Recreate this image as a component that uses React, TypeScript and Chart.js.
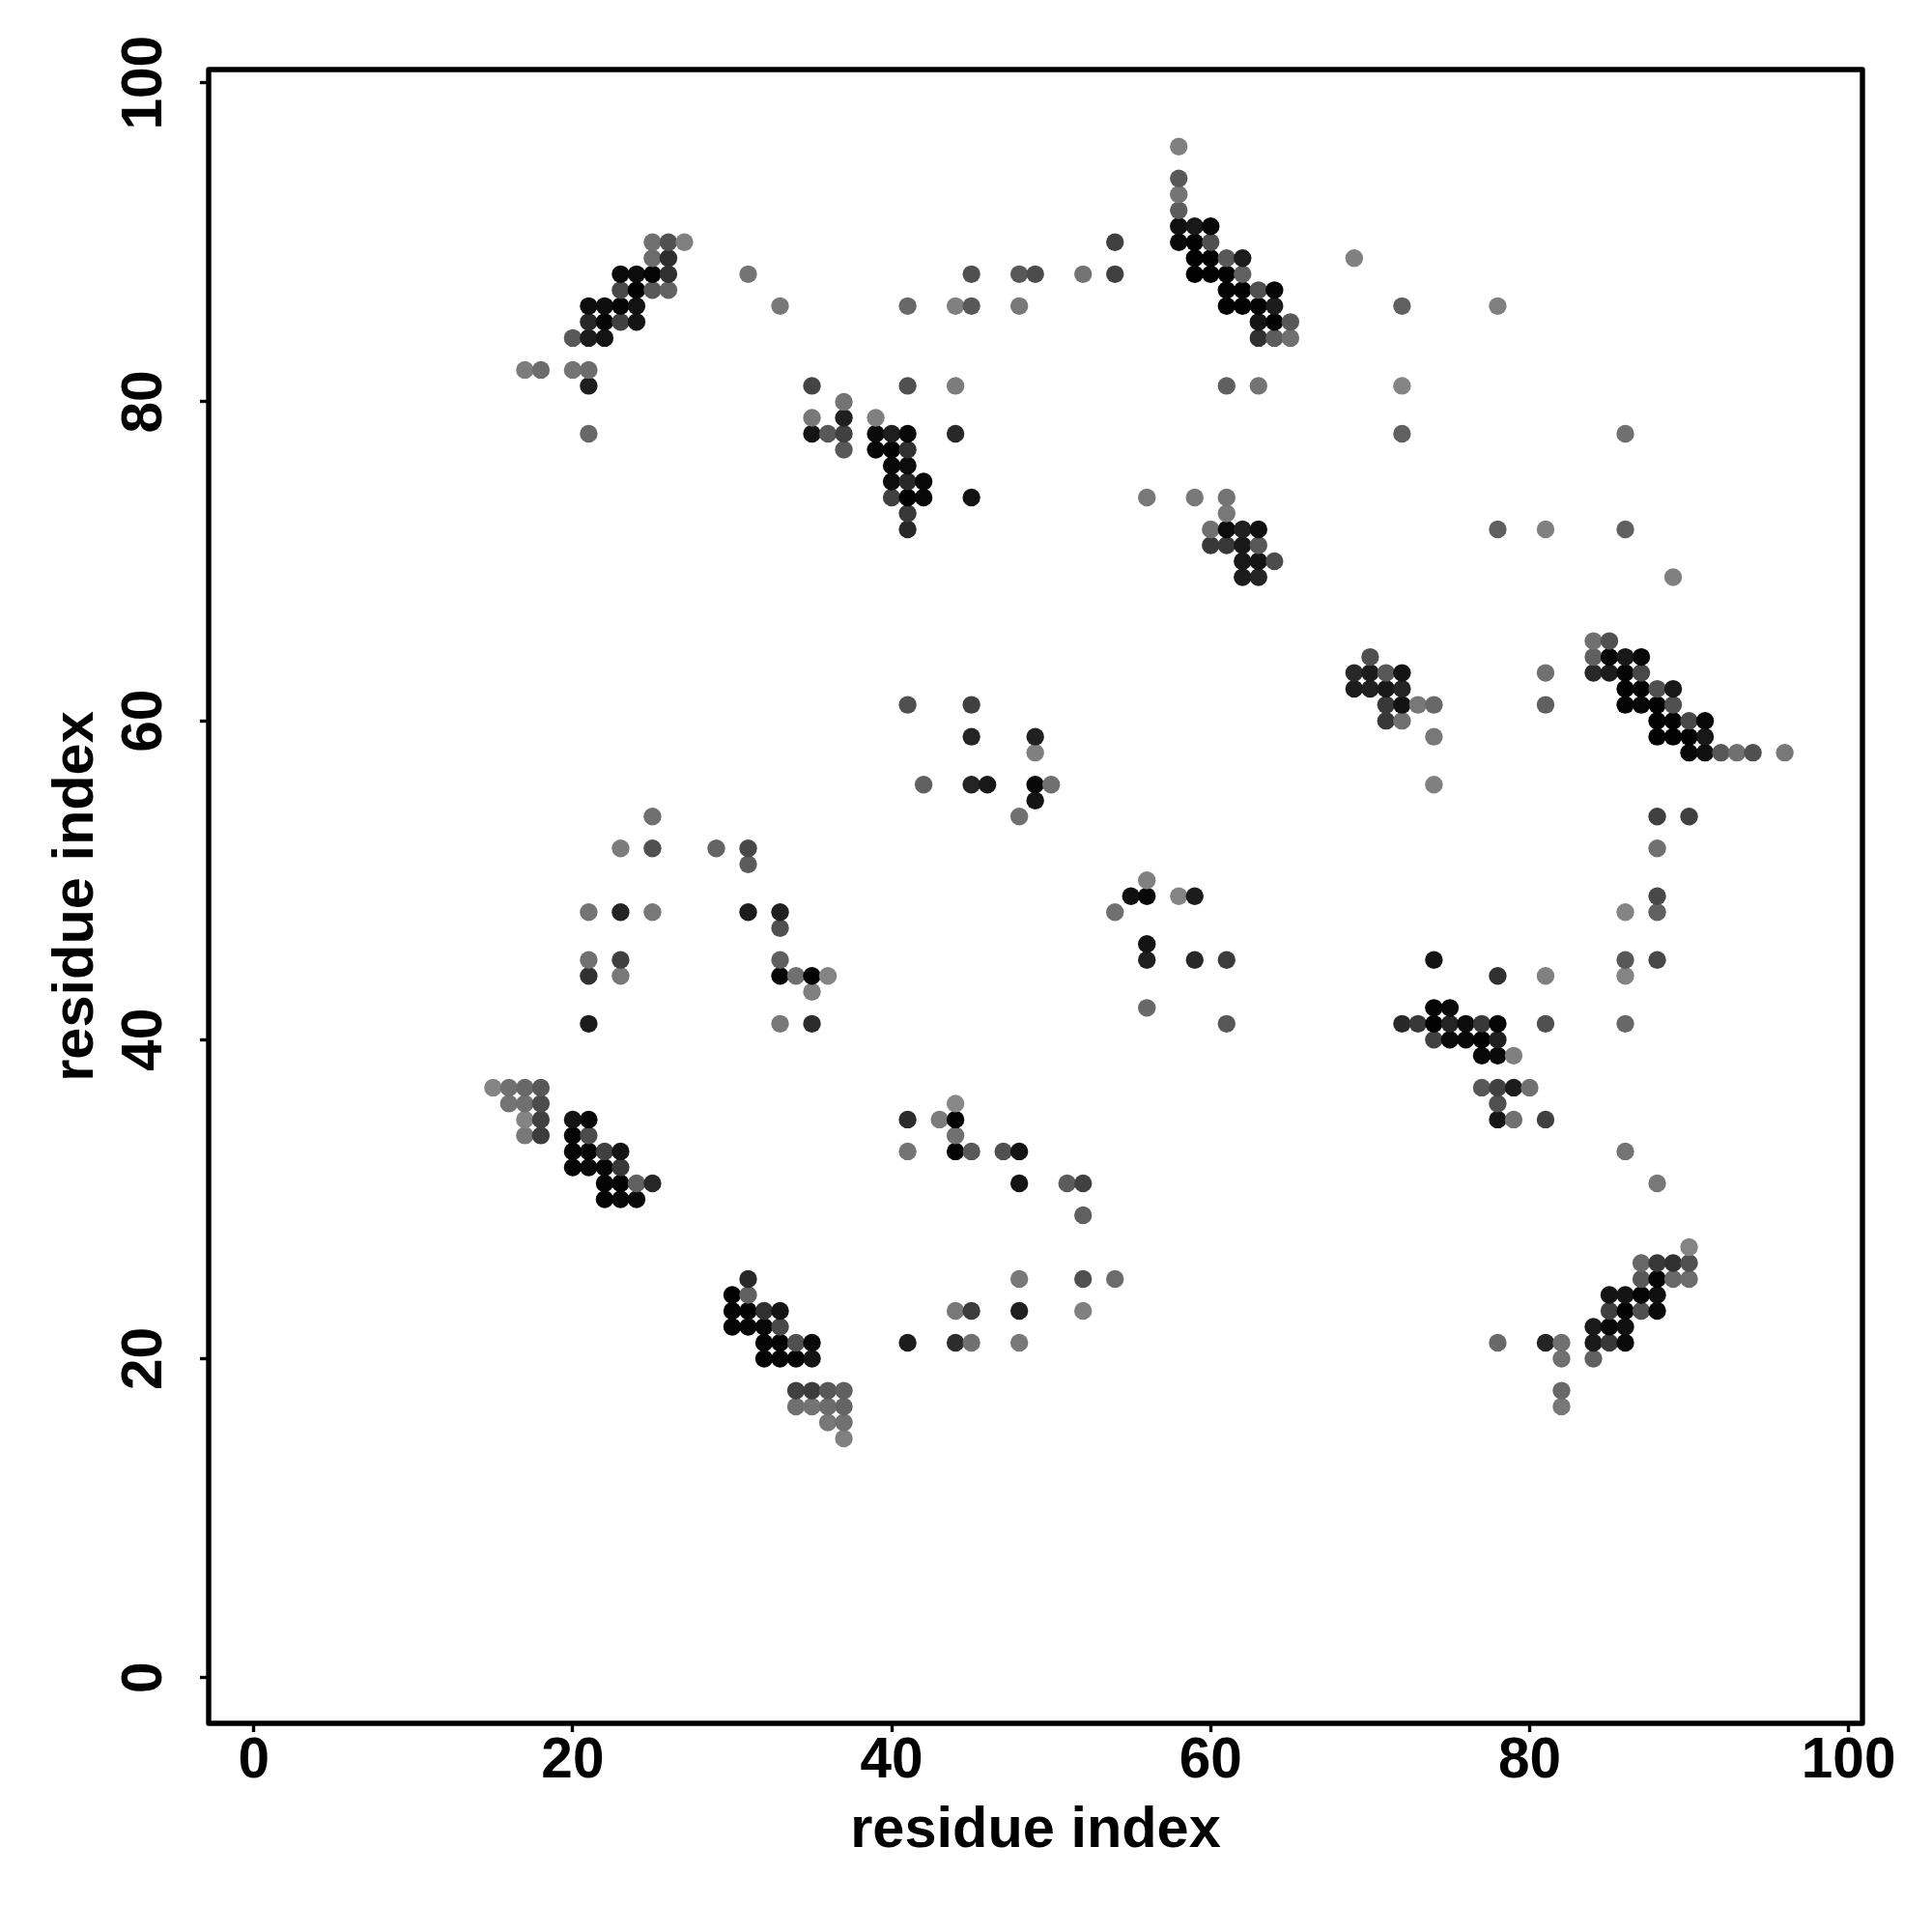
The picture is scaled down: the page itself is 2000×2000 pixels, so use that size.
import React, { useEffect, useRef } from "react";
import { Chart, registerables } from "chart.js";

Chart.register(...registerables);

const tickValues = [0, 20, 40, 60, 80, 100];
const xTitle = "residue index";
const yTitle = "residue index";

// One entry per row of the contact map: row index, residue columns, grey level of each dot.
const rowY = [15,16,17,18,20,21,22,23,24,25,26,27,29,30,31,32,33,34,35,36,37,39,40,41,42,43,44,45,46,47,48,49,50,51,52,54,55,56,58,59,60,61,62,63,64,65,69,70,71,72,73,74,75,76,77,78,79,80,81,82,84,85,86,87,88,89,90,91,92,93,94,96];

const rowX = [
  [37],
  [36,37],
  [34,35,36,37,82],
  [34,35,36,37,82],
  [32,33,34,35,82,84],
  [32,33,34,35,41,44,45,48,78,81,82,84,85,86],
  [30,31,32,33,84,85,86],
  [30,31,32,33,44,45,48,52,85,86,87,88],
  [30,31,85,86,87,88],
  [31,48,52,54,87,88,89,90],
  [87,88,89,90],
  [90],
  [52],
  [22,23,24],
  [22,23,24,25,48,51,52,88],
  [20,21,22,23],
  [20,21,22,23,41,44,45,47,48,86],
  [17,18,20,21,44],
  [17,18,20,21,41,43,44,78,79,81],
  [16,17,18,44,78],
  [15,16,17,18,77,78,79,80],
  [77,78,79],
  [74,75,76,77,78],
  [21,33,35,61,72,73,74,75,76,77,78,81,86],
  [56,74,75],
  [35],
  [21,23,33,34,35,36,78,81,86],
  [21,23,33,56,59,61,74,86,88],
  [56],
  [33],
  [21,23,25,31,33,54,86,88],
  [55,56,58,59,88],
  [56],
  [31],
  [23,25,29,31,88],
  [25,48,88,90],
  [49],
  [42,45,46,49,50,74],
  [49,90,91,92,93,94,96],
  [45,49,74,88,89,90,91],
  [71,72,88,89,90,91],
  [41,45,71,72,73,74,81,86,87,88,89],
  [69,70,71,72,86,87,88,89],
  [69,70,71,72,81,84,85,86,87],
  [70,84,85,86,87],
  [84,85],
  [62,63,89],
  [62,63,64],
  [60,61,62,63],
  [41,60,61,62,63,78,81,86],
  [41,61],
  [40,41,42,45,56,59,61],
  [40,41,42],
  [40,41],
  [37,39,40,41],
  [21,35,36,37,39,40,41,44,72,86],
  [35,37,39],
  [37],
  [21,35,41,44,61,63,72],
  [17,18,20,21],
  [20,21,22,63,64,65],
  [21,22,23,24,63,64,65],
  [21,22,23,24,33,41,44,45,48,61,62,63,64,72,78],
  [23,24,25,26,61,62,63,64],
  [23,24,25,26,31,45,48,49,52,54,59,60,61,62],
  [25,26,59,60,61,62,69],
  [25,26,27,54,58,59,60],
  [58,59,60],
  [58],
  [58],
  [58],
  [58],
];

const rowShade = [
  [0x80],
  [0x78,0x70],
  [0x70,0x74,0x6c,0x64,0x78],
  [0x40,0x3c,0x58,0x60,0x68],
  [0x03,0x02,0x02,0x14,0x70,0x60],
  [0x04,0x02,0x50,0x08,0x1c,0x2c,0x70,0x78,0x68,0x24,0x70,0x1a,0x38,0x0a],
  [0x03,0x05,0x08,0x48,0x1a,0x08,0x10],
  [0x04,0x02,0x30,0x14,0x78,0x3c,0x20,0x80,0x40,0x02,0x50,0x0a],
  [0x02,0x60,0x14,0x14,0x05,0x10],
  [0x28,0x78,0x50,0x6c,0x58,0x05,0x68,0x6c],
  [0x68,0x38,0x30,0x50],
  [0x84],
  [0x60],
  [0x04,0x08,0x08],
  [0x03,0x02,0x60,0x28,0x14,0x5c,0x40,0x78],
  [0x03,0x08,0x06,0x38],
  [0x04,0x05,0x40,0x14,0x74,0x02,0x58,0x50,0x14,0x74],
  [0x78,0x3c,0x02,0x4c,0x70],
  [0x84,0x40,0x14,0x06,0x2c,0x7c,0x02,0x14,0x70,0x40],
  [0x74,0x70,0x4c,0x88,0x50],
  [0x84,0x70,0x68,0x58,0x58,0x40,0x1c,0x70],
  [0x08,0x0a,0x80],
  [0x40,0x0a,0x08,0x02,0x20],
  [0x1c,0x78,0x2c,0x58,0x28,0x38,0x02,0x24,0x0c,0x38,0x05,0x50,0x68],
  [0x68,0x05,0x0a],
  [0x80],
  [0x30,0x78,0x06,0x70,0x02,0x84,0x30,0x80,0x84],
  [0x70,0x40,0x60,0x20,0x28,0x3c,0x14,0x58,0x48],
  [0x14],
  [0x50],
  [0x74,0x24,0x78,0x1c,0x20,0x70,0x84,0x60],
  [0x10,0x08,0x84,0x1c,0x48],
  [0x80],
  [0x5c],
  [0x7c,0x50,0x64,0x48,0x70],
  [0x70,0x70,0x40,0x40],
  [0x14],
  [0x60,0x24,0x18,0x08,0x70,0x80],
  [0x80,0x08,0x10,0x58,0x70,0x50,0x78],
  [0x24,0x20,0x78,0x02,0x02,0x02,0x18],
  [0x38,0x70,0x02,0x02,0x48,0x08],
  [0x50,0x40,0x38,0x12,0x78,0x68,0x60,0x04,0x06,0x02,0x50],
  [0x1c,0x20,0x18,0x24,0x02,0x02,0x50,0x18],
  [0x28,0x1c,0x58,0x14,0x70,0x28,0x1c,0x05,0x48],
  [0x50,0x60,0x05,0x18,0x08],
  [0x70,0x50],
  [0x1c,0x24,0x80],
  [0x18,0x14,0x4c],
  [0x38,0x38,0x18,0x58],
  [0x28,0x70,0x0c,0x20,0x10,0x60,0x80,0x60],
  [0x38,0x78],
  [0x40,0x00,0x08,0x12,0x78,0x78,0x74],
  [0x0c,0x28,0x08],
  [0x08,0x0c],
  [0x58,0x06,0x02,0x30],
  [0x68,0x14,0x58,0x40,0x0a,0x1e,0x08,0x28,0x60,0x70],
  [0x78,0x20,0x80],
  [0x74],
  [0x1e,0x44,0x50,0x7c,0x60,0x74,0x84],
  [0x7c,0x6c,0x74,0x6c],
  [0x58,0x1c,0x14,0x30,0x5c,0x70],
  [0x28,0x05,0x40,0x14,0x14,0x02,0x58],
  [0x0c,0x0e,0x05,0x12,0x78,0x68,0x80,0x58,0x78,0x02,0x02,0x03,0x1c,0x60,0x80],
  [0x48,0x02,0x58,0x62,0x03,0x02,0x50,0x05],
  [0x0a,0x0c,0x05,0x30,0x74,0x50,0x58,0x4c,0x74,0x40,0x00,0x02,0x02,0x60],
  [0x6c,0x2e,0x02,0x02,0x58,0x1c,0x80],
  [0x70,0x50,0x80,0x40,0x08,0x02,0x50],
  [0x10,0x18,0x08],
  [0x5c],
  [0x74],
  [0x58],
  [0x80],
];

const points = rowY.flatMap((y, i) => rowX[i].map((x) => ({ x, y })));
const colours = rowShade.flatMap((row) => row.map((v) => `rgb(${v},${v},${v})`));

const FONT = '"Liberation Sans", Arial, sans-serif';

const frame = {
  id: "frame",
  afterDatasetsDraw(chart: any) {
    const { ctx, chartArea: a } = chart;
    ctx.save();
    ctx.strokeStyle = "#000";
    ctx.lineWidth = 5.4;
    ctx.lineJoin = "round";
    ctx.strokeRect(a.left, a.top, a.right - a.left, a.bottom - a.top);
    ctx.restore();
  },
};

export default function App() {
  const ref = useRef<HTMLCanvasElement>(null);
  useEffect(() => {
    const tickFont = { family: FONT, size: 58.5, weight: "bold" as const, lineHeight: 1 };
    const titleFont = { family: FONT, size: 59.5, weight: "bold" as const, lineHeight: 1 };
    const grid = { drawOnChartArea: false, drawTicks: true, tickLength: 9, tickWidth: 3.4, tickColor: "#000" };
    const setTicks = (s: any) => {
      s.ticks = tickValues.map((value) => ({ value }));
    };
    const chart = new Chart(ref.current!, {
      type: "scatter",
      data: {
        datasets: [
          {
            data: points,
            pointBackgroundColor: colours,
            pointBorderWidth: 0,
            pointRadius: 9.2,
            pointHoverRadius: 9.2,
          },
        ],
      },
      plugins: [frame],
      options: {
        responsive: false,
        animation: false,
        events: [],
        layout: { autoPadding: false, padding: { left: 0, top: 72, right: 72, bottom: 0 } },
        plugins: { legend: { display: false }, tooltip: { enabled: false }, title: { display: false } },
        scales: {
          x: {
            type: "linear",
            min: -2.83,
            max: 100.87,
            afterBuildTicks: setTicks,
            afterFit: (s: any) => {
              s.height = 216;
            },
            grid,
            border: { display: false },
            ticks: { color: "#000", font: tickFont, padding: 2, maxRotation: 0, minRotation: 0, autoSkip: false },
            title: { display: true, text: xTitle, color: "#000", font: titleFont, padding: { top: 0, bottom: 75 } },
          },
          y: {
            type: "linear",
            min: -2.86,
            max: 100.83,
            afterBuildTicks: setTicks,
            afterFit: (s: any) => {
              s.width = 216;
            },
            grid,
            border: { display: false },
            ticks: { color: "#000", font: tickFont, padding: 7.5, minRotation: 90, maxRotation: 90, crossAlign: "center", autoSkip: false },
            title: { display: true, text: yTitle, color: "#000", font: titleFont, padding: { top: 50, bottom: 0 } },
          },
        },
      },
    });
    return () => chart.destroy();
  }, []);
  return (
    <div style={{ position: "absolute", left: 0, top: 0, width: 2000, height: 2000, background: "#fff" }}>
      <canvas ref={ref} width={2000} height={2000} style={{ display: "block" }} />
    </div>
  );
}
